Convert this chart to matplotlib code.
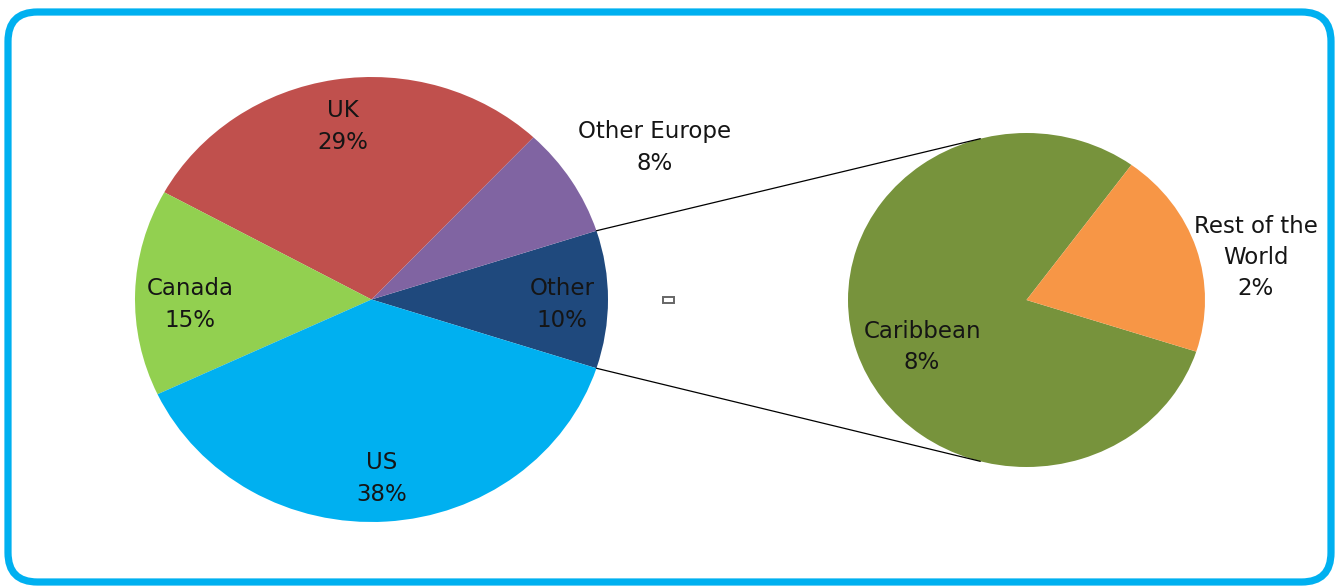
import numpy as np
import matplotlib
matplotlib.use("Agg")
import matplotlib.pyplot as plt
from matplotlib.patches import FancyBboxPatch, Rectangle, ConnectionPatch

# main pie, counter-clockwise from the "Other" slice
main_labels = ["Other", "Other Europe", "UK", "Canada", "US"]
main_values = [10, 8, 29, 15, 38]
main_colors = ["#1F497D", "#8064A2", "#C0504D", "#92D050", "#00B0F0"]

# breakdown of "Other"
sub_labels = ["Caribbean", "Rest of the\nWorld"]
sub_values = [8, 2]
sub_colors = ["#77933C", "#F79646"]

total = sum(main_values)
W, H = 1336, 586

fig = plt.figure(figsize=(W / 100, H / 100), dpi=100)


def px_axes(x0, y0, x1, y1):
    # image pixel box (y down) -> figure axes
    ax = fig.add_axes([x0 / W, 1 - y1 / H, (x1 - x0) / W, (y1 - y0) / H])
    ax.axis("off")
    return ax


def fix(ax):
    ax.set_xlim(-1, 1)
    ax.set_ylim(-1, 1)
    ax.set_aspect("auto")


ax1 = px_axes(135, 77, 608, 522)
ax2 = px_axes(848, 133, 1205, 467)

w1, _ = ax1.pie(main_values, colors=main_colors, startangle=-18,
                radius=1, wedgeprops=dict(linewidth=0))
fix(ax1)

w2, _ = ax2.pie(sub_values, colors=sub_colors, startangle=54,
                radius=1, wedgeprops=dict(linewidth=0))
fix(ax2)

fs = 16.5
ls = 1.47
# label placement (angle offset in degrees, distance from centre)
main_lab_pos = [(-1.6, 0.805), (-2.7, 1.38), (-0.2, 0.787), (3.5, 0.768), (-0.5, 0.805)]
for w, lab, v, (da, r) in zip(w1, main_labels, main_values, main_lab_pos):
    a = np.deg2rad((w.theta1 + w.theta2) / 2 + da)
    ax1.text(r * np.cos(a), r * np.sin(a), "%s\n%d%%" % (lab, round(100 * v / total)),
             ha="center", va="center", fontsize=fs, color="#151515",
             linespacing=ls, clip_on=False)

sub_lab_pos = [(7.7, 0.649), (-6.8, 1.31)]
for w, lab, v, (da, r) in zip(w2, sub_labels, sub_values, sub_lab_pos):
    a = np.deg2rad((w.theta1 + w.theta2) / 2 + da)
    ax2.text(r * np.cos(a), r * np.sin(a), "%s\n%d%%" % (lab, round(100 * v / total)),
             ha="center", va="center", fontsize=fs, color="#151515",
             linespacing=ls, clip_on=False)

# connector lines from the "Other" slice edges to the second pie
other = w1[0]
for th_main, th_sub in [(other.theta2, 105), (other.theta1, -105)]:
    a = np.deg2rad(th_main)
    b = np.deg2rad(th_sub)
    con = ConnectionPatch(xyA=(np.cos(a), np.sin(a)), coordsA=ax1.transData,
                          xyB=(np.cos(b), np.sin(b)), coordsB=ax2.transData,
                          color="black", linewidth=0.9)
    fig.add_artist(con)

# small empty glyph box between the pies
fig.add_artist(Rectangle((663 / W, 1 - 303 / H), 11 / W, 6 / H,
                         transform=fig.transFigure, fill=False,
                         edgecolor="#666666", linewidth=1.4))

# rounded frame
frame = FancyBboxPatch((8 / W, 1 - 582 / H), 1323 / W, 570 / H,
                       boxstyle="round,pad=0,rounding_size=0.022",
                       transform=fig.transFigure, fill=False,
                       edgecolor="#00B0F0", linewidth=5.2,
                       mutation_aspect=W / H)
fig.add_artist(frame)

fig.savefig("out.png", dpi=100, facecolor="white")
